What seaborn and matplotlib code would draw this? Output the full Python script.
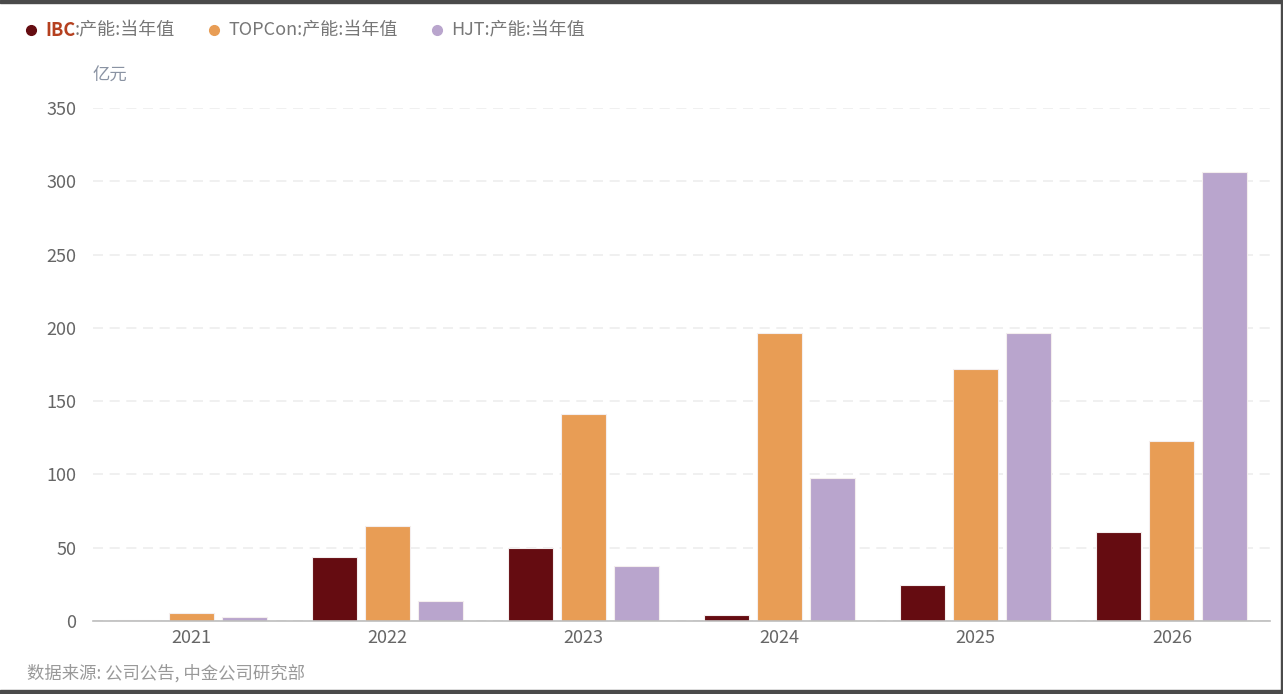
import pandas as pd
import matplotlib.pyplot as plt
import seaborn as sns
from matplotlib.patches import Rectangle

years = ["2021", "2022", "2023", "2024", "2025", "2026"]
series = ["IBC:产能:当年值", "TOPCon:产能:当年值", "HJT:产能:当年值"]
ibc = [0.6, 43.7, 50.1, 3.8, 24.6, 61.0]
topcon = [5.5, 64.8, 141.2, 196.5, 171.6, 122.8]
hjt = [2.5, 13.6, 37.5, 97.9, 196.5, 306.6]
colors = ["#650C11", "#E89D55", "#B9A5CD"]

df = pd.DataFrame({
    "year": years * 3,
    "series": [s for s in series for _ in years],
    "value": ibc + topcon + hjt,
})

sns.set_style("white")
plt.rcParams['font.family'] = ['Noto Sans CJK SC', 'DejaVu Sans']

fig = plt.figure(figsize=(12.83, 6.94), dpi=100)
ax = fig.add_axes([93 / 1283, 1 - 621 / 694, (1270 - 93) / 1283, (621 - 108) / 694])

sns.barplot(data=df, x="year", y="value", hue="series", palette=colors,
            saturation=1, width=0.81, gap=0.15, edgecolor="#F4EEEE", linewidth=0.8,
            legend=False, ax=ax, zorder=3)

ax.set_xlim(-0.5, 5.5)
ax.set_ylim(0, 350)
ax.set_yticks(range(0, 351, 50))
ax.yaxis.grid(True, color="#EDEDED", linestyle=(0, (6, 4)), linewidth=1.2, zorder=0)
ax.xaxis.grid(False)
for s in ["top", "right", "left"]:
    ax.spines[s].set_visible(False)
ax.spines["bottom"].set_color("#BDBDBD")
ax.spines["bottom"].set_linewidth(1.2)
ax.spines["bottom"].set_zorder(4)
ax.tick_params(axis="both", length=0, labelsize=13, labelcolor="#666666")
ax.tick_params(axis="y", pad=12)
ax.tick_params(axis="x", pad=6)
ax.set_xlabel("")
ax.set_ylabel("")

# unit label
fig.text(93 / 1283, 1 - 76 / 694, "亿元", fontsize=12.5, color="#8A93A3", va="center", ha="left")

# legend
leg_y = 1 - 30 / 694
marker_x = [31, 214, 437]
for mx, c in zip(marker_x, colors):
    fig.lines.append(plt.Line2D([mx / 1283], [leg_y], marker="o", markersize=7,
                                color=c, transform=fig.transFigure))
fig.text(45 / 1283, leg_y, "IBC", fontsize=13, fontweight="bold", color="#B5401F", va="center")
fig.text(75 / 1283, leg_y, ":产能:当年值", fontsize=13, color="#777777", va="center")
fig.text(228 / 1283, leg_y, series[1], fontsize=13, color="#777777", va="center")
fig.text(451 / 1283, leg_y, series[2], fontsize=13, color="#777777", va="center")

# source
fig.text(27 / 1283, 1 - 673 / 694, "数据来源: 公司公告, 中金公司研究部", fontsize=12.5,
         color="#999999", va="center")

# frame
fig.patches.append(Rectangle((0, 1 - 3 / 694), 1, 3 / 694, transform=fig.transFigure,
                             color="#4A4A4A", zorder=10))
fig.patches.append(Rectangle((1281 / 1283, 0), 2 / 1283, 1, transform=fig.transFigure,
                             color="#4A4A4A", zorder=10))
fig.patches.append(Rectangle((0, 0), 1, 4 / 694, transform=fig.transFigure,
                             color="#4A4A4A", zorder=10))

fig.savefig("out.png", dpi=100)
